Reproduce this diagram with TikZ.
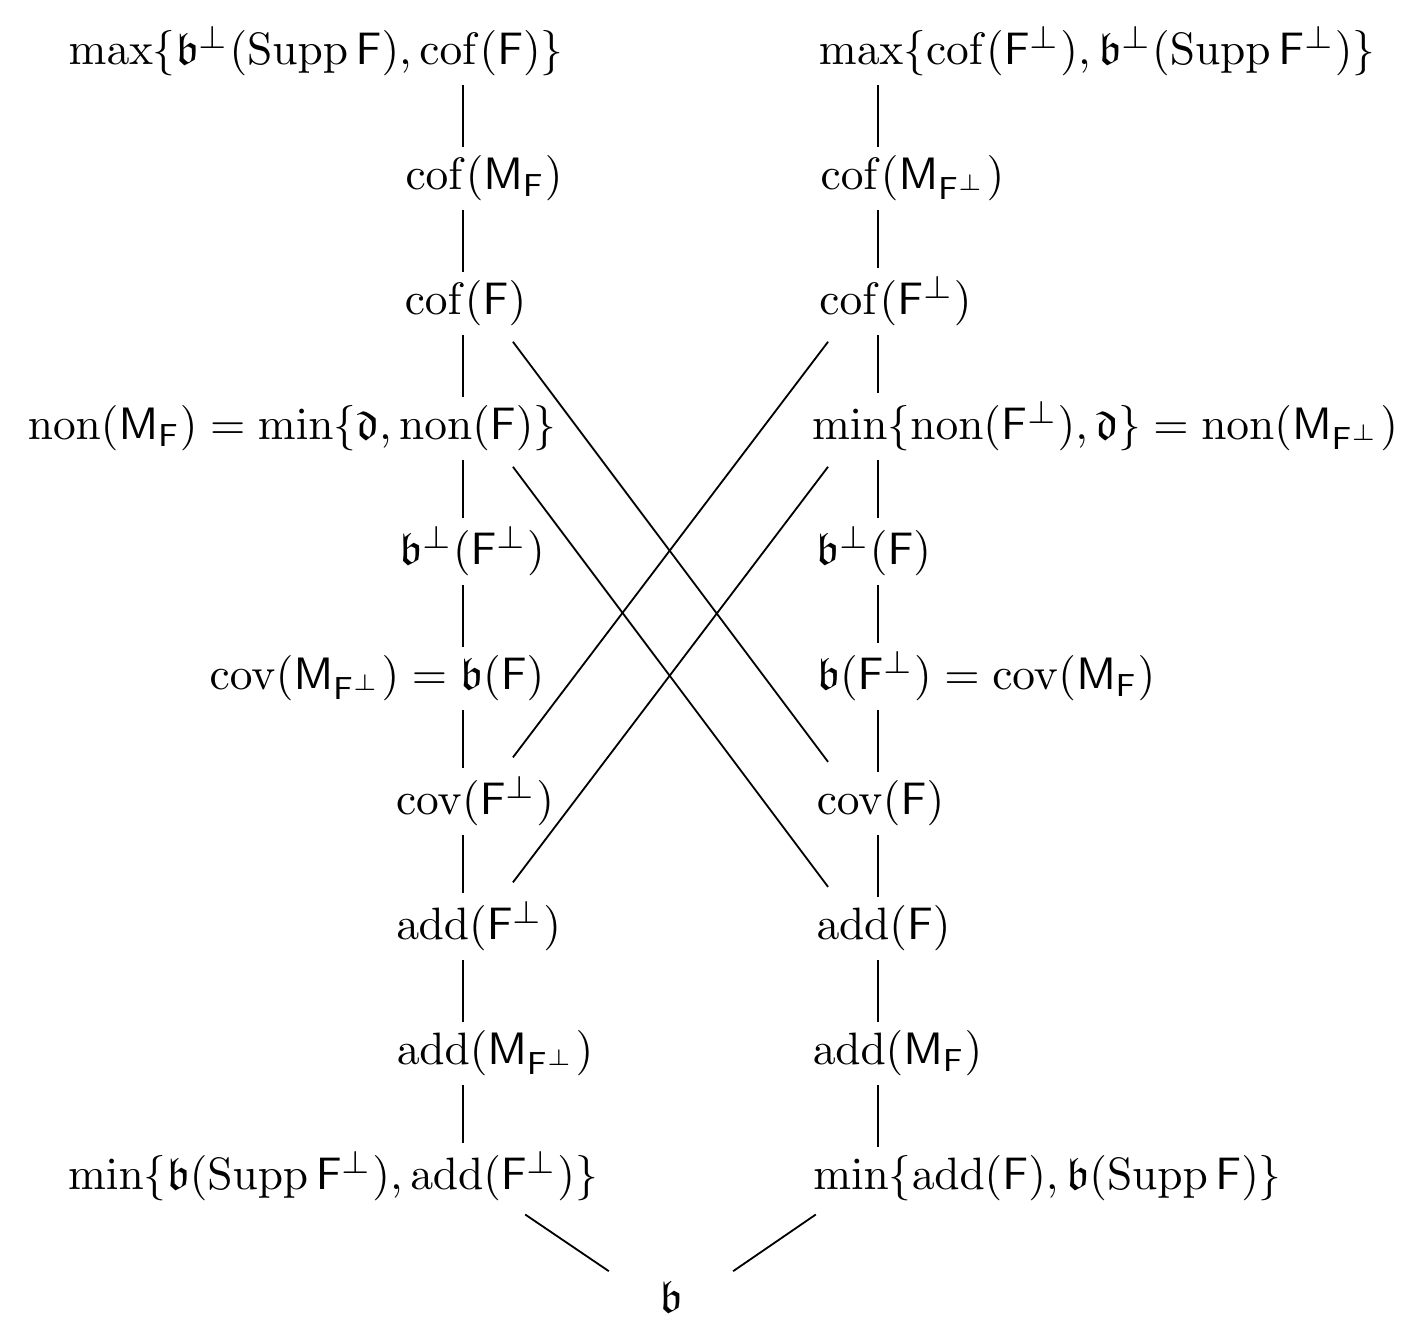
\documentclass[tikz,border=0pt]{standalone}
\usepackage{amsmath}
\usepackage{amssymb}
\usepackage{tikz}
\DeclareMathOperator{\opcof}{cof}
\DeclareMathOperator{\opcov}{cov}
\DeclareMathOperator{\opnon}{non}
\DeclareMathOperator{\opadd}{add}
\DeclareMathOperator{\opsupp}{Supp}
\newcommand{\sF}{\mathsf{F}}
\newcommand{\sM}{\mathsf{M}}
\begin{document}
\begin{tikzpicture}[x=0.2203pt,y=-0.2203pt,every node/.style={anchor=base,inner sep=1.7pt}]
\useasboundingbox (0,0) rectangle (1418,1328);
\coordinate (l) at (463,0);
\coordinate (r) at (878,0);

\node(a1) at (316,65) {$\max\{\mathfrak{b}^\perp(\opsupp\sF),\opcof(\sF)\}$};
\node(b1) at (1097,65) {$\max\{\opcof(\sF^\perp),\mathfrak{b}^\perp(\opsupp\sF^\perp)\}$};
\node(a2) at (484,190) {$\opcof(\sM_\sF)$};
\node(b2) at (912.5,190) {$\opcof(\sM_{\sF^\perp})$};
\node(a3) at (465.5,315) {$\opcof(\sF)$};
\node(b3) at (895.5,315) {$\opcof(\sF^\perp)$};
\node(a4) at (292,440) {$\opnon(\sM_\sF)=\min\{\mathfrak{d},\opnon(\sF)\}$};
\node(b4) at (1105,440) {$\min\{\opnon(\sF^\perp),\mathfrak{d}\}=\opnon(\sM_{\sF^\perp})$};
\node(a5) at (472,565) {$\mathfrak{b}^\perp(\sF^\perp)$};
\node(b5) at (873.5,565) {$\mathfrak{b}^\perp(\sF)$};
\node(a6) at (377,690) {$\opcov(\sM_{\sF^\perp})=\mathfrak{b}(\sF)$};
\node(b6) at (986,690) {$\mathfrak{b}(\sF^\perp)=\opcov(\sM_\sF)$};
\node(a7) at (475,815) {$\opcov(\sF^\perp)$};
\node(b7) at (880.5,815) {$\opcov(\sF)$};
\node(a8) at (478.5,940) {$\opadd(\sF^\perp)$};
\node(b8) at (883.5,940) {$\opadd(\sF)$};
\node(a9) at (495,1065) {$\opadd(\sM_{\sF^\perp})$};
\node(b9) at (897.5,1065) {$\opadd(\sM_\sF)$};
\node(a10) at (333,1190) {$\min\{\mathfrak{b}(\opsupp\sF^\perp),\opadd(\sF^\perp)\}$};
\node(b10) at (1047.5,1190) {$\min\{\opadd(\sF),\mathfrak{b}(\opsupp\sF)\}$};
\node(c) at (671,1313) {$\mathfrak{b}$};

\path (a1.south -| l) edge (a2.north -| l);
\path (a2.south -| l) edge (a3.north -| l);
\path (a3.south -| l) edge (a4.north -| l);
\path (a4.south -| l) edge (a5.north -| l);
\path (a5.south -| l) edge (a6.north -| l);
\path (a6.south -| l) edge (a7.north -| l);
\path (a7.south -| l) edge (a8.north -| l);
\path (a8.south -| l) edge (a9.north -| l);
\path (a9.south -| l) edge (a10.north -| l);
\path (b1.south -| r) edge (b2.north -| r);
\path (b2.south -| r) edge (b3.north -| r);
\path (b3.south -| r) edge (b4.north -| r);
\path (b4.south -| r) edge (b5.north -| r);
\path (b5.south -| r) edge (b6.north -| r);
\path (b6.south -| r) edge (b7.north -| r);
\path (b7.south -| r) edge (b8.north -| r);
\path (b8.south -| r) edge (b9.north -| r);
\path (b9.south -| r) edge (b10.north -| r);

\path ([xshift=11pt,yshift=-1.5pt]a3.south -| l) edge ([xshift=-11pt,yshift=2.3pt]b7.north -| r);
\path ([xshift=11pt,yshift=-1.5pt]a4.south -| l) edge ([xshift=-11pt,yshift=2.3pt]b8.north -| r);
\path ([xshift=-11pt,yshift=-1.5pt]b3.south -| r) edge ([xshift=11pt,yshift=2.3pt]a7.north -| l);
\path ([xshift=-11pt,yshift=-1.5pt]b4.south -| r) edge ([xshift=11pt,yshift=2.3pt]a8.north -| l);
\path ([xshift=13.7pt,yshift=-1pt]a10.south -| l) edge ([xshift=-13.7pt,yshift=0.4pt]c.north);
\path ([xshift=-13.7pt,yshift=-1pt]b10.south -| r) edge ([xshift=13.7pt,yshift=0.4pt]c.north);
\end{tikzpicture}
\end{document}
